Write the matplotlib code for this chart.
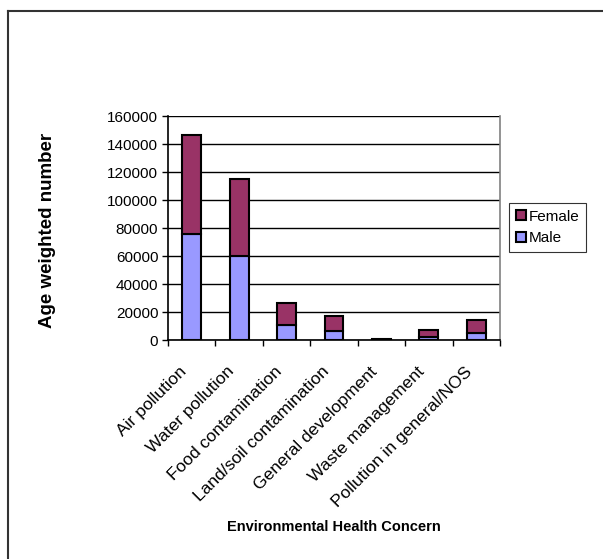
import matplotlib
matplotlib.use("Agg")
import matplotlib.pyplot as plt
import matplotlib.transforms as mtransforms
import numpy as np

plt.rcParams['font.family'] = ['Liberation Sans', 'DejaVu Sans']

# Age weighted numbers by concern
concerns = ['Air pollution', 'Water pollution', 'Food contamination',
            'Land/soil contamination', 'General development',
            'Waste management', 'Pollution in general/NOS']
male = [75800, 59900, 11000, 6200, 300, 2400, 4800]
female = [70300, 55000, 15200, 11000, 700, 4500, 9500]

fig = plt.figure(figsize=(6.03, 5.59), dpi=100)
ax = fig.add_axes([168/603, 1 - 340/559, 332/603, 224/559])

x = np.arange(len(concerns))
b1 = ax.bar(x, male, width=0.4, color='#9999FF', edgecolor='black', linewidth=1.5, zorder=3, label='Male')
b2 = ax.bar(x, female, width=0.4, bottom=male, color='#993366', edgecolor='black', linewidth=1.5, zorder=3, label='Female')

ax.set_xlim(-0.5, len(concerns) - 0.5)
ax.set_ylim(0, 160000)
ax.set_yticks(np.arange(0, 160001, 20000))
ax.yaxis.grid(True, color='black', linewidth=1, zorder=0)
ax.set_xticks(np.arange(-0.5, len(concerns), 1))
ax.set_xticklabels([])
ax.set_xticks(x, minor=True)
ax.set_xticklabels(concerns, minor=True, rotation=45, ha='right', va='center',
                   rotation_mode='anchor', fontsize=12.6)
ax.tick_params(axis='x', which='minor', length=0, pad=21)
ax.tick_params(axis='x', which='major', length=4, direction='out', width=1)
ax.tick_params(axis='y', length=4, direction='out', width=1, labelsize=11, pad=3)

# nudge the slanted category labels slightly left
shift = mtransforms.ScaledTranslation(-7/100, 0, fig.dpi_scale_trans)
for lab in ax.get_xticklabels(minor=True):
    lab.set_transform(lab.get_transform() + shift)

for side in ['left', 'bottom']:
    ax.spines[side].set_color('black')
    ax.spines[side].set_linewidth(1.2)
ax.spines['right'].set_color('#808080')
ax.spines['right'].set_linewidth(1.2)
ax.spines['top'].set_visible(False)

fig.text(48/603, 1 - 230/559, 'Age weighted number', rotation=90, ha='center', va='center',
         fontsize=13.5, fontweight='bold')
fig.text(334/603, 1 - 527/559, 'Environmental Health Concern', ha='center', va='center',
         fontsize=10.5, fontweight='bold')

leg = fig.legend([b2, b1], ['Female', 'Male'], loc='center left',
                 bbox_to_anchor=(509/603, 1 - 227.5/559), fontsize=11, frameon=True,
                 fancybox=False, edgecolor='black', handlelength=0.65, handleheight=0.65,
                 handletextpad=0.2, borderpad=0.45, labelspacing=0.5, borderaxespad=0)
leg.get_frame().set_linewidth(0.8)

# outer chart border (top and left edges)
fig.add_artist(plt.Line2D([8/603, 8/603], [0, 1 - 11/559], color='#333333', linewidth=1.5, transform=fig.transFigure))
fig.add_artist(plt.Line2D([8/603, 1], [1 - 11/559, 1 - 11/559], color='#333333', linewidth=1.5, transform=fig.transFigure))

fig.savefig('out.png', dpi=100)
